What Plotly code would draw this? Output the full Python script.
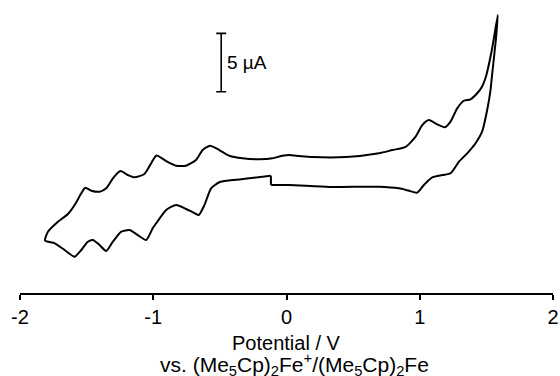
import plotly.graph_objects as go

# Cyclic voltammogram, potential (V vs. (Me5Cp)2Fe+/(Me5Cp)2Fe) and current (µA, arbitrary zero)
potential_v = [
    -0.117, -0.279, -0.404, -0.504, -0.566, -0.616, -0.659, -0.706, -0.754, -0.828,
    -0.903, -0.978, -1.004, -1.053, -1.116, -1.178, -1.240, -1.303, -1.353, -1.403,
    -1.453, -1.491, -1.540, -1.590, -1.665, -1.740, -1.812,
    -1.790, -1.715, -1.640, -1.590, -1.540, -1.510, -1.465, -1.403, -1.353, -1.303,
    -1.246, -1.191, -1.141, -1.066, -1.016, -0.976, -0.903, -0.828, -0.754, -0.679,
    -0.629, -0.574, -0.504, -0.429, -0.330, -0.204, -0.105, -0.030, 0.020, 0.095,
    0.193, 0.447, 0.694, 0.794, 0.894, 0.969, 1.019, 1.069, 1.131, 1.189,
    1.231, 1.281, 1.331, 1.381, 1.431, 1.466, 1.496, 1.541, 1.586,
    1.571, 1.541, 1.531, 1.506, 1.468, 1.419, 1.356, 1.294, 1.231, 1.169,
    1.094, 1.031, 0.981, 0.919, 0.844, 0.694, 0.320, 0.020, -0.117,
]
current_ua = [
    -0.49, -0.71, -0.86, -1.05, -1.57, -3.00, -3.85, -3.60, -3.34, -3.00,
    -3.42, -4.56, -4.99, -5.99, -5.57, -5.14, -5.28, -6.14, -6.93, -6.42,
    -5.99, -6.14, -6.85, -7.42, -6.85, -6.28, -6.04,
    -5.28, -4.43, -3.77, -3.00, -1.99, -1.52, -1.77, -1.86, -1.57, -0.71,
    -0.09, -0.43, -0.63, -0.34, 0.57, 1.24, 0.77, 0.37, 0.37, 0.86,
    1.71, 2.08, 1.71, 1.22, 1.00, 0.92, 1.00, 1.22, 1.28, 1.20,
    1.11, 1.11, 1.43, 1.71, 1.99, 2.85, 3.85, 4.28, 3.91, 3.66,
    4.14, 5.28, 5.93, 6.05, 6.57, 7.11, 7.96, 10.27, 13.27,
    11.13, 7.96, 6.85, 5.14, 3.28, 2.29, 1.43, 0.71, -0.28, -0.43,
    -0.63, -1.28, -1.94, -1.77, -1.57, -1.43, -1.46, -1.28, -1.28,
]

x_ticks = [-2, -1, 0, 1, 2]
x_tick_labels = ["-2", "-1", "0", "1", "2"]
x_range = [-2, 2]
y_range = [-10.53, 13.70]

scale_bar_x = -0.49
scale_bar_bottom = 6.70
scale_bar_ua = 5
scale_bar_label = "5 µA"

x_title_lines = [
    "Potential / V",
    "vs. (Me<sub>5</sub>Cp)<sub>2</sub>Fe<sup>+</sup>/(Me<sub>5</sub>Cp)<sub>2</sub>Fe",
]

FONT = "Liberation Sans, Arial, sans-serif"

fig = go.Figure()

# main CV trace
fig.add_trace(go.Scatter(
    x=potential_v, y=current_ua, mode="lines",
    line=dict(color="black", width=2, shape="spline", smoothing=0.6),
    hoverinfo="skip", showlegend=False,
))
# step joining start and end of the recording
fig.add_trace(go.Scatter(
    x=[potential_v[-1], potential_v[0]], y=[current_ua[-1], current_ua[0]], mode="lines",
    line=dict(color="black", width=2),
    hoverinfo="skip", showlegend=False,
))
# scale bar
mid = scale_bar_bottom + scale_bar_ua / 2
fig.add_trace(go.Scatter(
    x=[scale_bar_x], y=[mid], mode="markers",
    marker=dict(size=0.1, color="black"),
    error_y=dict(type="constant", value=scale_bar_ua / 2, color="black", thickness=1.6, width=5),
    hoverinfo="skip", showlegend=False,
))
fig.add_annotation(
    x=scale_bar_x, y=mid, xref="x", yref="y", text=scale_bar_label,
    showarrow=False, xanchor="left", yanchor="middle", xshift=4,
    font=dict(family=FONT, size=19, color="black"),
)

# two-line axis title
for line_text, yshift, xshift, size in zip(x_title_lines, [-50, -71], [0, 8], [20, 21]):
    fig.add_annotation(
        x=0.5, y=0, xref="paper", yref="paper", text=line_text,
        showarrow=False, xanchor="center", yanchor="middle",
        yshift=yshift, xshift=xshift,
        font=dict(family=FONT, size=size, color="black"),
    )

fig.update_layout(
    width=560, height=376,
    margin=dict(l=20, r=7, t=10, b=83, autoexpand=False),
    paper_bgcolor="white", plot_bgcolor="white",
    font=dict(family=FONT, size=20, color="black"),
    xaxis=dict(
        range=x_range, tickvals=x_ticks, ticktext=x_tick_labels,
        showline=True, linecolor="black", linewidth=2,
        ticks="outside", ticklen=5, tickwidth=2, tickcolor="black",
        showgrid=False, zeroline=False,
        tickfont=dict(family=FONT, size=20, color="black"),
        automargin=False,
    ),
    yaxis=dict(range=y_range, visible=False, showgrid=False, zeroline=False),
)

fig.write_html(
    "out.html",
    config={"displayModeBar": False, "staticPlot": True},
    post_script="document.body.style.margin='0';document.body.style.overflow='hidden';",
)
